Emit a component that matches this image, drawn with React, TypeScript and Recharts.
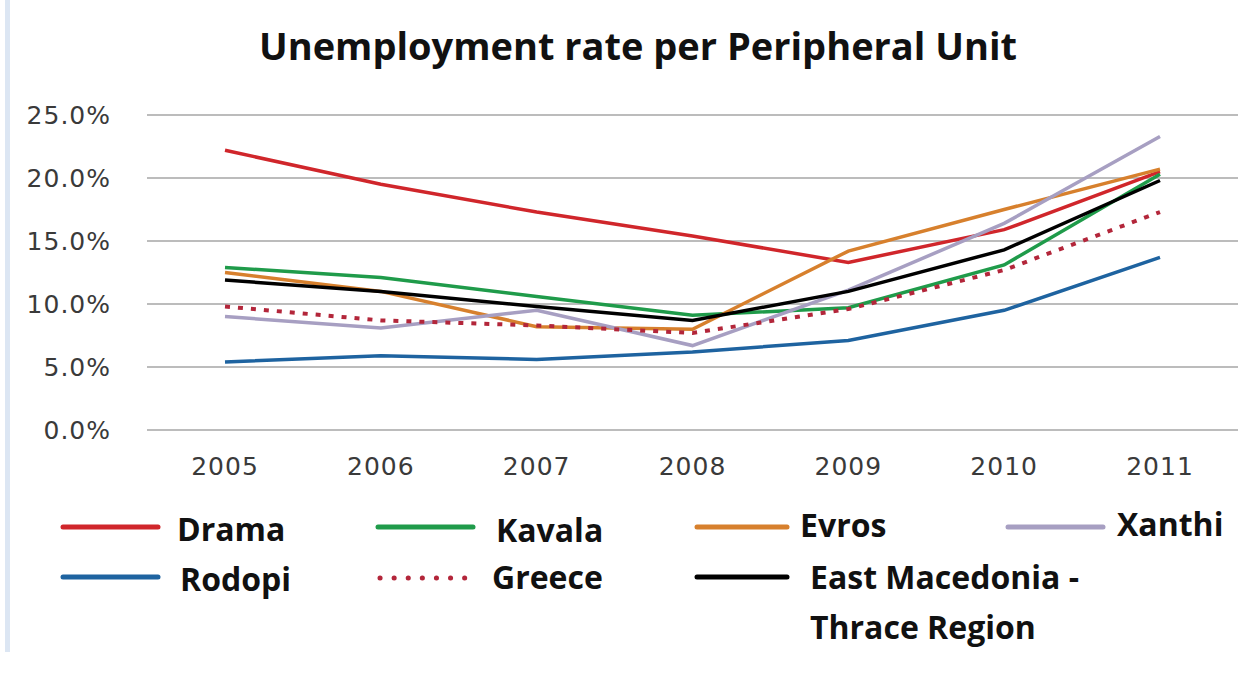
import { LineChart, Line, XAxis, YAxis, CartesianGrid, Legend } from 'recharts';

const years = ['2005', '2006', '2007', '2008', '2009', '2010', '2011'];
const drama = [22.2, 19.5, 17.3, 15.4, 13.3, 15.9, 20.5];
const kavala = [12.9, 12.1, 10.6, 9.1, 9.7, 13.1, 20.3];
const evros = [12.5, 11.0, 8.2, 8.0, 14.2, 17.5, 20.7];
const xanthi = [9.0, 8.1, 9.5, 6.7, 11.1, 16.4, 23.3];
const rodopi = [5.4, 5.9, 5.6, 6.2, 7.1, 9.5, 13.7];
const greece = [9.8, 8.7, 8.3, 7.7, 9.6, 12.7, 17.3];
const eastMac = [11.9, 11.0, 9.8, 8.7, 11.0, 14.3, 19.8];
const yTicks = [0, 5, 10, 15, 20, 25];

const series = [
  { key: 'drama', name: 'Drama', values: drama, color: '#D0262B', dotted: false },
  { key: 'kavala', name: 'Kavala', values: kavala, color: '#1F9B4A', dotted: false },
  { key: 'evros', name: 'Evros', values: evros, color: '#D7802D', dotted: false },
  { key: 'xanthi', name: 'Xanthi', values: xanthi, color: '#A79FC2', dotted: false },
  { key: 'rodopi', name: 'Rodopi', values: rodopi, color: '#1E63A0', dotted: false },
  { key: 'greece', name: 'Greece', values: greece, color: '#B3263A', dotted: true },
  { key: 'eastMac', name: 'East Macedonia - Thrace Region', values: eastMac, color: '#000000', dotted: false },
];

const data = years.map((year, i) => {
  const row: Record<string, any> = { year };
  series.forEach(s => { row[s.key] = s.values[i]; });
  return row;
});

// legend entry layout: line start, line end, line y, text x, text baseline
const legendSpots: Record<string, [number, number, number, number, number]> = {
  drama: [63, 158, 527, 177, 541],
  kavala: [378, 473, 527, 496, 542],
  evros: [697, 787, 527, 800, 537],
  xanthi: [1008, 1103, 527, 1117, 536],
  rodopi: [63, 158, 577, 180, 591],
  greece: [380, 466, 578, 492, 589],
  eastMac: [697, 787, 577, 810, 589],
};

const LEGEND_TOP = 490;
const tickStyle = { fontFamily: 'DejaVu Sans', fontSize: 25, fill: '#3a3a3a', letterSpacing: 1 };

function renderLegend() {
  return (
    <svg width={1258} height={170} style={{ display: 'block' }}>
      {series.map(s => {
        const [x1, x2, ly, tx, ty] = legendSpots[s.key];
        const lines = s.key === 'eastMac' ? ['East Macedonia -', 'Thrace Region'] : [s.name];
        return (
          <g key={s.key}>
            <line
              x1={x1} x2={x2} y1={ly - LEGEND_TOP} y2={ly - LEGEND_TOP}
              stroke={s.color}
              strokeWidth={5}
              strokeDasharray={s.dotted ? '0.1 14' : undefined}
              strokeLinecap="round"
            />
            {lines.map((t, i) => (
              <text
                key={t}
                x={tx}
                y={ty - LEGEND_TOP + i * 50}
                fontFamily="Open Sans"
                fontWeight={700}
                fontSize={32}
                fill="#111"
              >
                {t}
              </text>
            ))}
          </g>
        );
      })}
    </svg>
  );
}

export default function App() {
  return (
    <div style={{ position: 'absolute', left: 0, top: 0, width: 1258, height: 684, background: '#fff' }}>
      <div style={{ position: 'absolute', left: 5, top: 0, width: 5, height: 652, background: '#DCE6F3' }} />
      <div
        style={{
          position: 'absolute', left: 0, top: 26, width: 1276, textAlign: 'center', lineHeight: '38px',
          fontFamily: 'Open Sans', fontWeight: 700, fontSize: 38, color: '#111',
        }}
      >
        Unemployment rate per Peripheral Unit
      </div>
      <LineChart
        width={1258}
        height={684}
        data={data}
        margin={{ top: 115, right: 20, left: 0, bottom: 0 }}
      >
        <CartesianGrid vertical={false} stroke="#A6A6A6" strokeWidth={1.5} />
        <XAxis
          dataKey="year"
          axisLine={false}
          tickLine={false}
          height={254}
          tickMargin={21}
          padding={{ left: 78, right: 78 }}
          tick={tickStyle}
        />
        <YAxis
          width={147}
          domain={[0, 25]}
          ticks={yTicks}
          axisLine={false}
          tickLine={false}
          tickMargin={30}
          tickFormatter={(v: number) => `${v.toFixed(1)}%`}
          tick={tickStyle}
        />
        <Legend
          layout="vertical"
          align="center"
          verticalAlign="middle"
          content={renderLegend}
          wrapperStyle={{ left: 0, top: LEGEND_TOP, width: 1258, height: 170 }}
        />
        {series.map(s => (
          <Line
            key={s.key}
            type="linear"
            dataKey={s.key}
            name={s.name}
            stroke={s.color}
            strokeWidth={s.dotted ? 4 : 3.5}
            strokeDasharray={s.dotted ? '5 8' : undefined}
            dot={false}
            activeDot={false}
            isAnimationActive={false}
          />
        ))}
      </LineChart>
    </div>
  );
}
